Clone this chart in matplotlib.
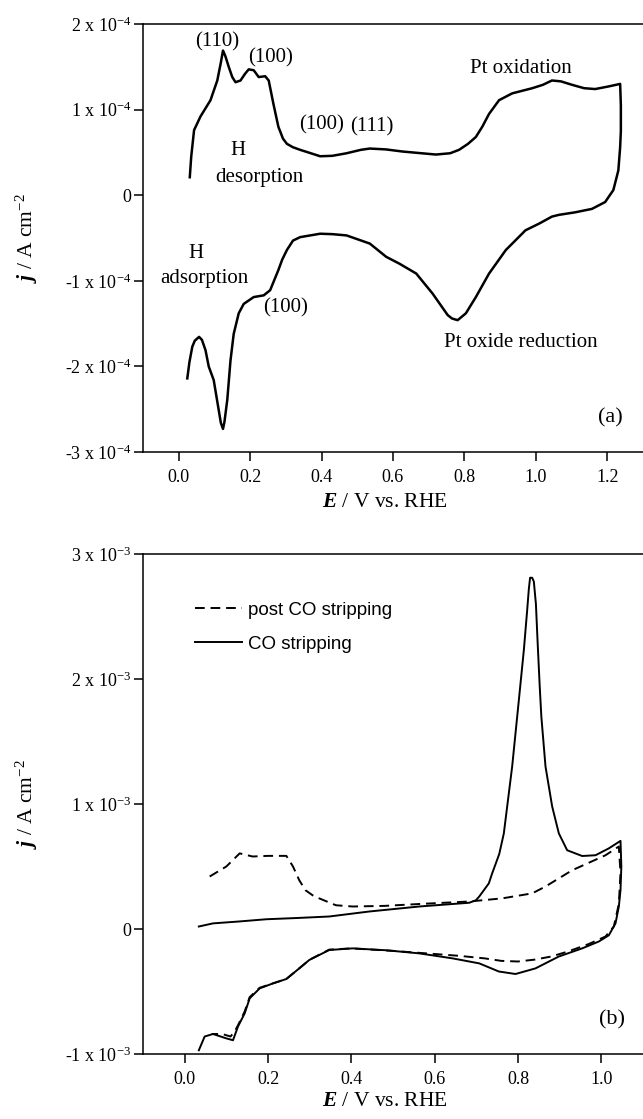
import numpy as np
import matplotlib
matplotlib.use("Agg")
import matplotlib.pyplot as plt
from matplotlib.lines import Line2D

plt.rcParams['font.family'] = ['Liberation Serif', 'DejaVu Serif']
plt.rcParams['mathtext.fontset'] = 'custom'
plt.rcParams['mathtext.rm'] = 'Liberation Serif'
plt.rcParams['mathtext.it'] = 'Liberation Serif:italic'
plt.rcParams['mathtext.bf'] = 'Liberation Serif:bold'
plt.rcParams['mathtext.bfit'] = 'Liberation Serif:italic:bold'

# (a) voltammogram of clean Pt, j in units of 1e-4 A cm-2
e_a = [0.031, 0.035, 0.043, 0.061, 0.089, 0.108, 0.118, 0.124, 0.131, 0.140,
       0.150, 0.159, 0.173, 0.186, 0.196, 0.210, 0.224, 0.242, 0.252, 0.265,
       0.279, 0.292, 0.303, 0.320, 0.340, 0.370, 0.396, 0.430, 0.470, 0.510,
       0.535, 0.580, 0.627, 0.680, 0.720, 0.760, 0.785, 0.810, 0.832, 0.850,
       0.869, 0.897, 0.934, 0.990, 1.020, 1.045, 1.070, 1.101, 1.135, 1.166,
       1.203, 1.236,
       1.238, 1.238, 1.236, 1.231, 1.217, 1.194, 1.157, 1.110, 1.064, 1.045,
       1.010, 0.971, 0.916, 0.869, 0.832, 0.804, 0.781, 0.765, 0.753, 0.711,
       0.665, 0.618, 0.581, 0.535, 0.470, 0.430, 0.396, 0.340, 0.320, 0.303,
       0.290, 0.279, 0.256, 0.238, 0.210, 0.182, 0.168, 0.154, 0.145, 0.136,
       0.128, 0.124, 0.118, 0.112, 0.098, 0.084, 0.075, 0.065, 0.057, 0.045,
       0.038, 0.030, 0.024]
j_a = [0.21, 0.45, 0.76, 0.92, 1.11, 1.34, 1.55, 1.69, 1.62, 1.50,
       1.38, 1.32, 1.34, 1.42, 1.47, 1.46, 1.38, 1.39, 1.34, 1.07,
       0.80, 0.66, 0.60, 0.56, 0.53, 0.49, 0.455, 0.46, 0.49, 0.53,
       0.545, 0.535, 0.51, 0.49, 0.475, 0.49, 0.53, 0.60, 0.68, 0.80,
       0.95, 1.11, 1.19, 1.25, 1.29, 1.34, 1.33, 1.29, 1.25, 1.24,
       1.27, 1.30,
       1.05, 0.75, 0.56, 0.29, 0.06, -0.08, -0.16, -0.20, -0.23, -0.25,
       -0.33, -0.41, -0.64, -0.915, -1.19, -1.38, -1.46, -1.44, -1.40, -1.15,
       -0.915, -0.80, -0.72, -0.565, -0.47, -0.455, -0.45, -0.49, -0.53, -0.64,
       -0.75, -0.875, -1.11, -1.17, -1.19, -1.27, -1.38, -1.62, -1.93, -2.39,
       -2.65, -2.73, -2.66, -2.51, -2.16, -2.00, -1.81, -1.69, -1.655, -1.70,
       -1.77, -1.95, -2.14]

# (b) CO stripping and the following cycle, j in units of 1e-3 A cm-2
e_co = [0.034, 0.068, 0.130, 0.196, 0.270, 0.347, 0.443, 0.563, 0.683, 0.699,
        0.707, 0.730, 0.738, 0.755, 0.766, 0.786, 0.802, 0.814, 0.822, 0.826,
        0.829, 0.834, 0.838, 0.843, 0.847, 0.852, 0.856, 0.866, 0.882, 0.898,
        0.918, 0.954, 0.986, 1.018, 1.046,
        1.048, 1.046, 1.042, 1.034, 1.018, 0.994, 0.954, 0.898, 0.842, 0.794,
        0.754, 0.707, 0.643, 0.563, 0.483, 0.403, 0.347, 0.299, 0.275, 0.244,
        0.212, 0.180, 0.156, 0.144, 0.128, 0.116, 0.100, 0.068, 0.048, 0.034]
j_co = [0.02, 0.045, 0.06, 0.078, 0.088, 0.10, 0.14, 0.18, 0.21, 0.23,
        0.26, 0.365, 0.445, 0.60, 0.765, 1.30, 1.83, 2.23, 2.55, 2.72,
        2.81, 2.81, 2.78, 2.60, 2.30, 1.95, 1.70, 1.30, 0.98, 0.765,
        0.63, 0.584, 0.59, 0.645, 0.705,
        0.50, 0.31, 0.18, 0.045, -0.05, -0.10, -0.155, -0.22, -0.315, -0.36,
        -0.34, -0.275, -0.235, -0.195, -0.17, -0.155, -0.168, -0.248, -0.315, -0.40,
        -0.435, -0.475, -0.555, -0.675, -0.78, -0.89, -0.875, -0.84, -0.86, -0.97]

e_post = [0.060, 0.100, 0.132, 0.163, 0.200, 0.244, 0.260, 0.275, 0.290, 0.307,
          0.323, 0.363, 0.403, 0.480, 0.563, 0.683, 0.762, 0.834, 0.866, 0.930,
          1.010, 1.042,
          1.046, 1.042, 1.030, 1.010, 0.970, 0.920, 0.880, 0.840, 0.800, 0.760,
          0.720, 0.660, 0.600, 0.500, 0.400, 0.347, 0.300, 0.275, 0.244, 0.212,
          0.180, 0.156, 0.144, 0.128, 0.120, 0.110, 0.090, 0.065]
j_post = [0.42, 0.50, 0.605, 0.58, 0.585, 0.585, 0.50, 0.39, 0.31, 0.27,
          0.245, 0.19, 0.18, 0.185, 0.20, 0.22, 0.245, 0.285, 0.34, 0.47,
          0.59, 0.66,
          0.45, 0.20, 0.02, -0.06, -0.12, -0.18, -0.22, -0.245, -0.26, -0.255,
          -0.235, -0.215, -0.20, -0.175, -0.155, -0.165, -0.245, -0.315, -0.40, -0.435,
          -0.47, -0.545, -0.66, -0.77, -0.82, -0.86, -0.84, -0.84]

# axis ticks
xticks_a = [0.0, 0.2, 0.4, 0.6, 0.8, 1.0, 1.2]
xticks_b = [0.0, 0.2, 0.4, 0.6, 0.8, 1.0]
yticks_a = [-3e-4, -2e-4, -1e-4, 0, 1e-4, 2e-4]
ylabels_a = ['-3 x 10$^{-4}$', '-2 x 10$^{-4}$', '-1 x 10$^{-4}$', '0',
             '1 x 10$^{-4}$', '2 x 10$^{-4}$']
yticks_b = [-1e-3, 0, 1e-3, 2e-3, 3e-3]
ylabels_b = ['-1 x 10$^{-3}$', '0', '1 x 10$^{-3}$', '2 x 10$^{-3}$',
             '3 x 10$^{-3}$']

W, H = 643, 1119
fig = plt.figure(figsize=(W / 100, H / 100), dpi=100)
ax1 = fig.add_axes([143 / W, 1 - 452 / H, 500 / W, 428 / H])
ax2 = fig.add_axes([143 / W, 1 - 1054 / H, 500 / W, 500 / H])

xlab = r'$\mathbfit{E}$ / V vs. RHE'
ylab = r'$\mathbfit{j}$ / A cm$^{-2}$'


def style(ax, xt, yt, yl):
    ax.spines['right'].set_visible(False)
    for s in ('left', 'top', 'bottom'):
        ax.spines[s].set_linewidth(1.1)
    ax.set_xticks(xt)
    ax.set_xticklabels(['%.1f' % v for v in xt])
    ax.set_yticks(yt)
    ax.set_yticklabels(yl)
    ax.tick_params(direction='out', length=6.5, width=1.1, labelsize=13,
                   pad=2, top=False, right=False)
    ax.tick_params(axis='x', pad=6)
    ax.set_xlabel(xlab, fontsize=15.5)
    ax.set_ylabel(ylab, fontsize=15.5)
    ax.yaxis.set_label_coords(-0.205, 0.5)


# ---- (a)
ax1.plot(e_a, np.array(j_a) * 1e-4, color='black', lw=1.8)
ax1.set_xlim(-0.1, 1.3)
ax1.set_ylim(-3e-4, 2e-4)
style(ax1, xticks_a, yticks_a, ylabels_a)
ax1.xaxis.set_label_coords(0.484, -0.095)

fs = 15
ax1.text(0.109, 1.79e-4, '(110)', fontsize=fs, ha='center', va='center')
ax1.text(0.256, 1.60e-4, '(100)', fontsize=fs, ha='center', va='center')
ax1.text(0.40, 0.82e-4, '(100)', fontsize=fs, ha='center', va='center')
ax1.text(0.54, 0.80e-4, '(111)', fontsize=fs, ha='center', va='center')
ax1.text(0.167, 0.52e-4, 'H', fontsize=fs, ha='center', va='center')
ax1.text(0.225, 0.21e-4, 'desorption', fontsize=fs, ha='center', va='center')
ax1.text(0.047, -0.68e-4, 'H', fontsize=fs, ha='center', va='center')
ax1.text(0.072, -0.97e-4, 'adsorption', fontsize=fs, ha='center', va='center')
ax1.text(0.30, -1.32e-4, '(100)', fontsize=fs, ha='center', va='center')
ax1.text(0.958, 1.48e-4, 'Pt oxidation', fontsize=fs, ha='center', va='center')
ax1.text(0.958, -1.72e-4, 'Pt oxide reduction', fontsize=fs, ha='center', va='center')
ax1.text(1.21, -2.6e-4, '(a)', fontsize=16, ha='center', va='center')

# ---- (b)
ln_co, = ax2.plot(e_co, np.array(j_co) * 1e-3, color='black', lw=1.4,
                  label='CO stripping')
ln_post, = ax2.plot(e_post, np.array(j_post) * 1e-3, color='black', lw=1.4,
                    dashes=(5, 3), label='post CO stripping')
ax2.set_xlim(-0.1, 1.1)
ax2.set_ylim(-1e-3, 3e-3)
style(ax2, xticks_b, yticks_b, ylabels_b)
ax2.xaxis.set_label_coords(0.484, -0.076)
ax2.text(1.025, -0.73e-3, '(b)', fontsize=16, ha='center', va='center')

ax2.legend(handles=[ln_post, ln_co], loc='upper left',
           bbox_to_anchor=(0.104, 0.905), frameon=False,
           prop={'family': 'Liberation Sans', 'size': 13.5},
           handlelength=2.5, handletextpad=0.3, labelspacing=0.9,
           borderpad=0, borderaxespad=0)

fig.savefig('out.png', dpi=100)
